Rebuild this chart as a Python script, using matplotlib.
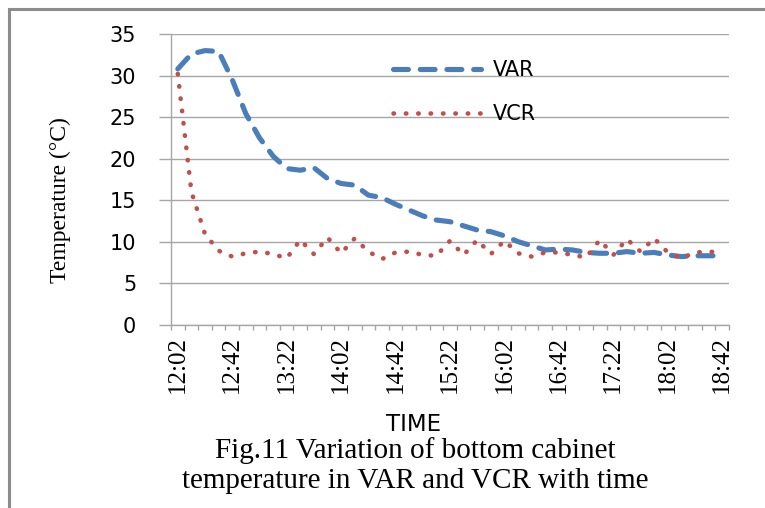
import matplotlib
matplotlib.use("Agg")
import matplotlib.pyplot as plt
from matplotlib.patches import Rectangle
import numpy as np

times = ['12:02', '12:12', '12:22', '12:32', '12:42', '12:52', '13:02', '13:12', '13:22', '13:32',
         '13:42', '13:52', '14:02', '14:12', '14:22', '14:32', '14:42', '14:52', '15:02', '15:12',
         '15:22', '15:32', '15:42', '15:52', '16:02', '16:12', '16:22', '16:32', '16:42', '16:52',
         '17:02', '17:12', '17:22', '17:32', '17:42', '17:52', '18:02', '18:12', '18:22', '18:32',
         '18:42']
var = [30.8, 32.6, 33.0, 32.9, 29.5, 25.4, 22.5, 20.3, 18.8, 18.6,
       18.9, 17.6, 17.0, 16.8, 15.6, 15.3, 14.5, 13.8, 13.1, 12.6,
       12.4, 11.9, 11.4, 11.2, 10.7, 10.0, 9.5, 9.0, 9.1, 9.0,
       8.7, 8.6, 8.6, 8.8, 8.6, 8.7, 8.4, 8.2, 8.3, 8.3, 8.3]
vcr = [30.2, 16.0, 10.9, 8.9, 8.2, 8.6, 8.8, 8.5, 8.0, 10.2,
       8.5, 10.5, 8.6, 10.4, 8.8, 7.9, 8.7, 8.8, 8.4, 8.3,
       10.1, 8.4, 10.2, 8.5, 10.1, 8.6, 8.2, 8.7, 8.7, 8.4,
       8.1, 10.2, 8.4, 10.3, 8.8, 10.4, 8.7, 8.0, 8.7, 8.8, 8.7]
yticks = [0, 5, 10, 15, 20, 25, 30, 35]

SANS = 'DejaVu Sans'
SERIF = 'Liberation Serif'
GRID = '#a6a6a6'

fig = plt.figure(figsize=(7.65, 5.08), dpi=100)
fig.patch.set_facecolor('white')
ax = fig.add_axes([171 / 765, 1 - 324.7 / 508, 558 / 765, 290.7 / 508])

x = np.arange(len(times))
ax.plot(x, var, color='#4a7ebb', lw=3.7, dashes=(2.9, 2.3),
        dash_capstyle='round', solid_capstyle='round', label='VAR', zorder=3)
ax.plot(x, vcr, color='#c0504d', lw=3.3, dashes=(0.1, 2.6),
        dash_capstyle='round', label='VCR', zorder=3)

ax.set_xlim(-0.5, len(times) - 0.5)
ax.set_ylim(0, 35)
ax.set_yticks(yticks)
ax.set_yticklabels([str(v) for v in yticks], fontname=SANS, fontsize=15)
ax.grid(axis='y', color=GRID, lw=1.0)
ax.set_axisbelow(True)

ax.set_xticks(x[::4])
ax.set_xticklabels(times[::4], rotation=90, fontname=SERIF, fontsize=18)
ax.set_xticks(np.arange(-0.5, len(times), 1), minor=True)
ax.tick_params(axis='x', which='major', length=0, pad=8)
ax.tick_params(axis='x', which='minor', length=3.5, direction='out', color=GRID, width=1.0)
ax.tick_params(axis='y', length=9, direction='out', color=GRID, width=1.0, pad=16)

for s in ['top', 'right']:
    ax.spines[s].set_visible(False)
for s in ['left', 'bottom']:
    ax.spines[s].set_color(GRID)
    ax.spines[s].set_linewidth(1.0)

ax.set_ylabel('Temperature (°C)', fontname=SERIF, fontsize=17, va='center')
ax.yaxis.set_label_coords(-0.199, 0.429)
ax.set_xlabel('TIME', fontname=SANS, fontsize=16.5, va='center')
ax.xaxis.set_label_coords(0.434, -0.345)

leg = ax.legend(loc='upper left', bbox_to_anchor=(0.398, 0.91), frameon=False,
                borderpad=0, borderaxespad=0, handlelength=4.2, handletextpad=0.6,
                labelspacing=1.14, prop={'family': SANS, 'size': 15})

fig.text(415 / 765, 1 - 451 / 508, 'Fig.11 Variation of bottom cabinet',
         fontname=SERIF, fontsize=21, ha='center', va='center')
fig.text(415 / 765, 1 - 481 / 508, 'temperature in VAR and VCR with time',
         fontname=SERIF, fontsize=21, ha='center', va='center')

fig.patches.append(Rectangle((9 / 765, -0.2), 1.5, 1.2 - 9 / 508,
                             transform=fig.transFigure, fill=False,
                             edgecolor='#8c8c8c', lw=2.2))

fig.savefig('out.png', dpi=100)
